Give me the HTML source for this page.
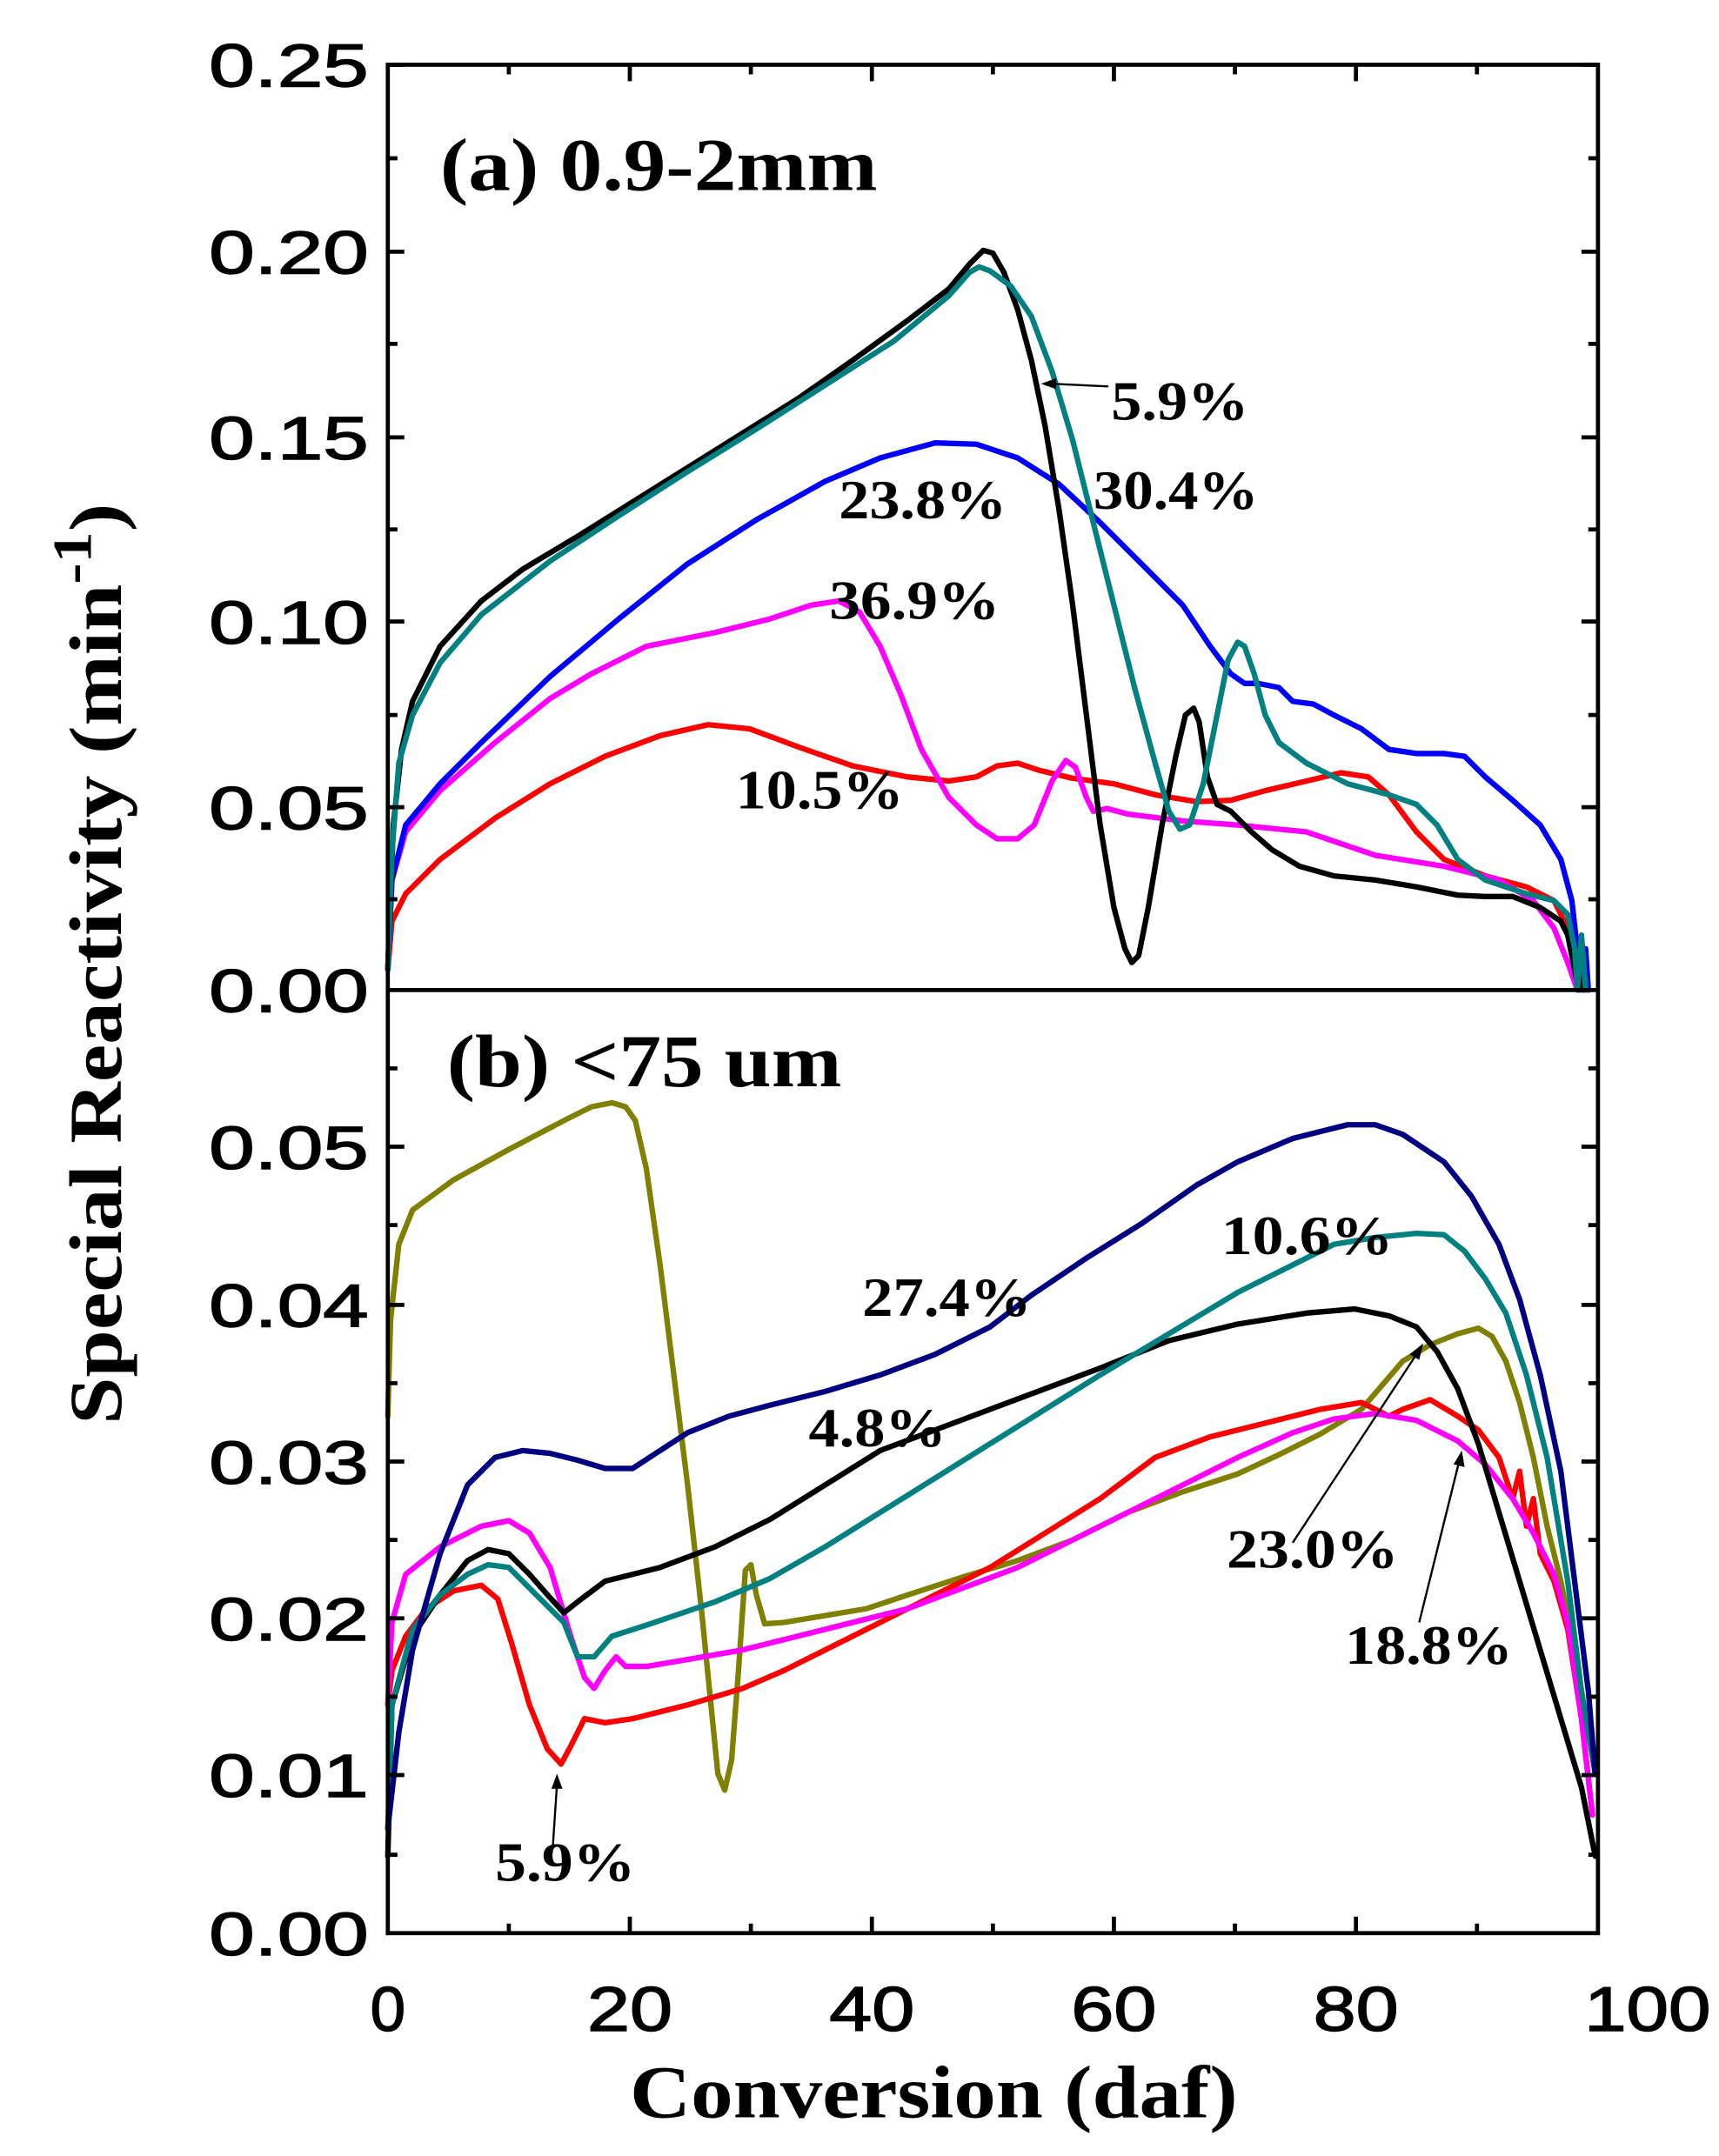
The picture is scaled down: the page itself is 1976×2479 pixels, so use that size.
<!DOCTYPE html>
<html><head><meta charset="utf-8"><style>html,body{margin:0;padding:0;background:#fff}svg{display:block}</style></head>
<body>
<svg width="1976" height="2479" viewBox="0 0 1250 1568" xmlns="http://www.w3.org/2000/svg">
<rect width="1250" height="1568" fill="#fff"/>
<g fill="none" stroke-width="4" stroke-linejoin="round" stroke-linecap="round">
<!-- panel a -->
<polyline stroke="#ff0000" points="282,705 285,670 295,650 320,625 360,595 400,570 440,550 480,535 515,527 545,530 580,543 620,557 660,565 690,568 710,565 725,557 740,555 755,560 780,566 810,570 840,578 870,583 895,582 920,575 950,568 975,562 995,565 1010,578 1030,605 1050,625 1080,637 1110,645 1130,655 1140,675 1145,700 1148,720"/>
<polyline stroke="#ff00ff" points="282,705 285,640 295,605 320,575 360,540 400,508 430,490 470,470 520,460 560,450 590,440 610,437 625,445 640,470 655,505 670,545 690,580 710,600 725,610 740,610 752,600 765,568 775,553 782,558 790,580 795,590 805,588 820,592 860,597 900,600 950,605 1000,622 1050,630 1090,640 1115,655 1130,675 1140,700 1147,720"/>
<polyline stroke="#0000ff" points="282,705 285,640 295,600 320,570 350,540 400,492 450,450 500,410 550,378 600,350 640,333 680,322 710,323 740,333 770,352 800,380 830,410 860,440 880,470 895,490 905,497 915,497 930,500 940,510 955,512 970,520 990,530 1010,545 1030,548 1050,548 1065,550 1080,565 1100,582 1120,600 1135,625 1143,655 1148,700 1150,720 1153,690 1155,720"/>
<polyline stroke="#000000" points="282,705 286,600 292,545 300,510 320,470 350,437 380,414 420,390 460,365 500,340 540,315 580,290 620,262 660,233 690,210 705,192 715,182 722,184 730,198 740,225 750,262 760,310 770,370 780,440 790,520 800,600 810,660 818,690 823,700 828,695 835,660 845,600 855,550 862,520 868,515 872,525 878,565 885,585 895,590 910,605 925,618 945,630 970,637 1000,640 1030,645 1060,651 1080,652 1100,652 1120,660 1135,670 1140,680 1145,705 1148,720 1150,690 1152,720"/>
<polyline stroke="#008080" points="282,705 285,620 290,555 300,520 320,482 350,447 400,408 450,375 500,343 550,312 600,280 650,248 690,215 705,198 712,194 720,197 735,208 750,230 765,270 780,320 795,380 810,440 825,500 840,555 850,590 858,603 865,600 875,570 885,520 893,480 900,467 905,470 912,490 920,520 930,540 950,555 980,570 1010,578 1030,585 1045,600 1060,625 1080,640 1110,650 1130,655 1140,665 1145,690 1147,720 1150,680 1153,720"/>
<!-- panel b -->
<polyline stroke="#808000" points="282,1030 284,960 290,905 300,880 330,858 370,836 410,815 430,805 445,802 455,805 462,815 470,850 480,920 490,1000 500,1080 510,1170 517,1240 522,1290 527,1302 532,1280 537,1215 542,1142 546,1138 550,1160 556,1181 570,1180 600,1175 630,1170 660,1160 700,1147 740,1135 780,1120 820,1100 860,1085 900,1072 930,1058 960,1043 990,1025 1020,990 1040,978 1060,970 1075,966 1085,972 1095,990 1105,1020 1115,1060 1125,1110 1135,1150 1145,1200 1155,1260 1160,1290"/>
<polyline stroke="#ff0000" points="282,1240 285,1215 295,1190 310,1170 330,1157 350,1153 362,1163 372,1195 385,1240 398,1272 408,1283 415,1270 425,1250 440,1253 460,1250 500,1240 540,1228 570,1215 600,1200 640,1180 680,1160 720,1140 760,1115 800,1090 840,1060 880,1045 920,1035 960,1025 990,1020 1010,1030 1020,1025 1040,1018 1060,1030 1075,1040 1090,1060 1100,1090 1105,1070 1110,1110 1115,1090 1120,1130 1130,1150 1140,1185 1150,1250 1158,1320"/>
<polyline stroke="#ff00ff" points="282,1240 285,1180 295,1145 320,1125 350,1110 370,1106 385,1115 400,1140 415,1190 425,1220 432,1228 440,1215 448,1205 455,1212 470,1212 500,1207 540,1200 580,1190 620,1180 660,1170 700,1155 740,1140 780,1120 820,1100 860,1080 900,1060 940,1042 970,1032 1000,1028 1030,1033 1060,1048 1080,1065 1100,1090 1115,1115 1130,1145 1140,1180 1150,1250 1158,1320"/>
<polyline stroke="#000000" points="282,1350 285,1240 300,1190 320,1160 340,1135 355,1127 370,1130 385,1145 400,1162 410,1173 420,1165 440,1150 480,1140 520,1125 560,1105 600,1080 640,1055 680,1040 720,1025 760,1010 800,995 850,975 900,963 950,955 985,952 1010,957 1030,965 1045,983 1060,1010 1075,1050 1090,1100 1105,1150 1120,1200 1135,1250 1150,1300 1160,1350"/>
<polyline stroke="#008080" points="282,1330 285,1240 300,1185 320,1160 340,1145 355,1138 370,1140 390,1160 410,1180 420,1205 432,1205 445,1190 470,1182 520,1165 560,1148 600,1125 640,1100 680,1075 720,1050 760,1025 800,1000 850,970 900,940 940,920 970,905 1000,900 1030,897 1050,898 1065,910 1080,930 1095,955 1110,1000 1125,1060 1140,1150 1150,1230 1160,1290"/>
<polyline stroke="#000080" points="282,1330 290,1260 300,1200 320,1130 340,1080 360,1060 380,1055 400,1057 420,1062 440,1068 460,1068 480,1055 500,1042 530,1030 560,1022 600,1012 640,1000 680,985 720,965 750,942 790,915 830,890 870,862 900,845 940,828 980,818 1000,818 1020,825 1050,845 1070,870 1090,905 1105,945 1120,1000 1135,1070 1145,1150 1155,1230 1160,1290"/>
</g>
<!-- axes -->
<g stroke="#000" stroke-width="3" fill="none">
<rect x="282" y="47" width="880" height="1359"/>
<line x1="282" y1="720" x2="1162" y2="720"/>
<path d="M282,47h12M282,183h12M282,318h12M282,452h12M282,587h12M282,115h7M282,250h7M282,385h7M282,520h7M282,654h7
M1162,47h-12M1162,183h-12M1162,318h-12M1162,452h-12M1162,587h-12M1162,115h-7M1162,250h-7M1162,385h-7M1162,520h-7M1162,654h-7
M282,834h12M282,949h12M282,1063h12M282,1177h12M282,1291h12M282,777h7M282,891h7M282,1006h7M282,1120h7M282,1234h7M282,1349h7
M1162,834h-12M1162,949h-12M1162,1063h-12M1162,1177h-12M1162,1291h-12M1162,777h-7M1162,891h-7M1162,1006h-7M1162,1120h-7M1162,1234h-7M1162,1349h-7
M458,1406v-12M634,1406v-12M810,1406v-12M986,1406v-12M370,1406v-7M546,1406v-7M722,1406v-7M898,1406v-7M1074,1406v-7
M458,47v12M634,47v12M810,47v12M986,47v12M370,47v7M546,47v7M722,47v7M898,47v7M1074,47v7"/>
</g>
<!-- tick labels -->
<g font-family="Liberation Sans, Arial, sans-serif" font-size="44" fill="#000" stroke="#000" stroke-width="0.9" text-anchor="end">
<text x="268" y="63" textLength="116" lengthAdjust="spacingAndGlyphs">0.25</text>
<text x="268" y="199" textLength="116" lengthAdjust="spacingAndGlyphs">0.20</text>
<text x="268" y="334" textLength="116" lengthAdjust="spacingAndGlyphs">0.15</text>
<text x="268" y="468" textLength="116" lengthAdjust="spacingAndGlyphs">0.10</text>
<text x="268" y="603" textLength="116" lengthAdjust="spacingAndGlyphs">0.05</text>
<text x="268" y="736" textLength="116" lengthAdjust="spacingAndGlyphs">0.00</text>
<text x="268" y="850" textLength="116" lengthAdjust="spacingAndGlyphs">0.05</text>
<text x="268" y="965" textLength="116" lengthAdjust="spacingAndGlyphs">0.04</text>
<text x="268" y="1079" textLength="116" lengthAdjust="spacingAndGlyphs">0.03</text>
<text x="268" y="1193" textLength="116" lengthAdjust="spacingAndGlyphs">0.02</text>
<text x="268" y="1307" textLength="116" lengthAdjust="spacingAndGlyphs">0.01</text>
<text x="268" y="1422" textLength="116" lengthAdjust="spacingAndGlyphs">0.00</text>
</g>
<g font-family="Liberation Sans, Arial, sans-serif" font-size="46" fill="#000" stroke="#000" stroke-width="0.9" text-anchor="middle">
<text x="282" y="1477">0</text>
<text x="458" y="1477" textLength="62" lengthAdjust="spacingAndGlyphs">20</text>
<text x="634" y="1477" textLength="62" lengthAdjust="spacingAndGlyphs">40</text>
<text x="810" y="1477" textLength="62" lengthAdjust="spacingAndGlyphs">60</text>
<text x="986" y="1477" textLength="62" lengthAdjust="spacingAndGlyphs">80</text>
<text x="1198" y="1477" textLength="92" lengthAdjust="spacingAndGlyphs">100</text>
</g>
<!-- titles -->
<text x="458" y="1540" font-family="Liberation Serif, serif" font-weight="bold" font-size="54" textLength="442" lengthAdjust="spacingAndGlyphs">Conversion (daf)</text>
<text transform="translate(88,1036) rotate(-90)" font-family="Liberation Serif, serif" font-weight="bold" font-size="54" textLength="670" lengthAdjust="spacingAndGlyphs">Special Reactivity (min<tspan dy="-22" font-size="40">-1</tspan><tspan dy="22">)</tspan></text>
<!-- annotations -->
<g font-family="Liberation Serif, serif" font-weight="bold" fill="#000">
<text x="320" y="138" font-size="54" textLength="318" lengthAdjust="spacingAndGlyphs">(a) 0.9-2mm</text>
<text x="325" y="790" font-size="54" textLength="287" lengthAdjust="spacingAndGlyphs">(b) &lt;75 um</text>
<g font-size="40">
<text x="808" y="305" textLength="100" lengthAdjust="spacingAndGlyphs">5.9%</text>
<text x="795" y="370" textLength="120" lengthAdjust="spacingAndGlyphs">30.4%</text>
<text x="610" y="377" textLength="122" lengthAdjust="spacingAndGlyphs">23.8%</text>
<text x="603" y="450" textLength="124" lengthAdjust="spacingAndGlyphs">36.9%</text>
<text x="535" y="588" textLength="122" lengthAdjust="spacingAndGlyphs">10.5%</text>
<text x="888" y="912" textLength="125" lengthAdjust="spacingAndGlyphs">10.6%</text>
<text x="627" y="957" textLength="123" lengthAdjust="spacingAndGlyphs">27.4%</text>
<text x="588" y="1052" textLength="100" lengthAdjust="spacingAndGlyphs">4.8%</text>
<text x="892" y="1140" textLength="125" lengthAdjust="spacingAndGlyphs">23.0%</text>
<text x="978" y="1210" textLength="122" lengthAdjust="spacingAndGlyphs">18.8%</text>
<text x="360" y="1368" textLength="102" lengthAdjust="spacingAndGlyphs">5.9%</text>
</g>
</g>
<!-- arrows -->
<g stroke="#000" stroke-width="1.5" fill="#000">
<line x1="806" y1="281" x2="764" y2="279"/><path d="M757,279 L768,275 L768,283 Z" stroke="none"/>
<line x1="402" y1="1343" x2="405" y2="1298"/><path d="M405,1290 L401,1301 L409,1301 Z" stroke="none"/>
<line x1="940" y1="1122" x2="1030" y2="985"/><path d="M1035,977 L1025,985 L1032,989 Z" stroke="none"/>
<line x1="1032" y1="1180" x2="1061" y2="1063"/><path d="M1063,1055 L1057,1065 L1065,1067 Z" stroke="none"/>
</g>
</svg>
</body></html>
